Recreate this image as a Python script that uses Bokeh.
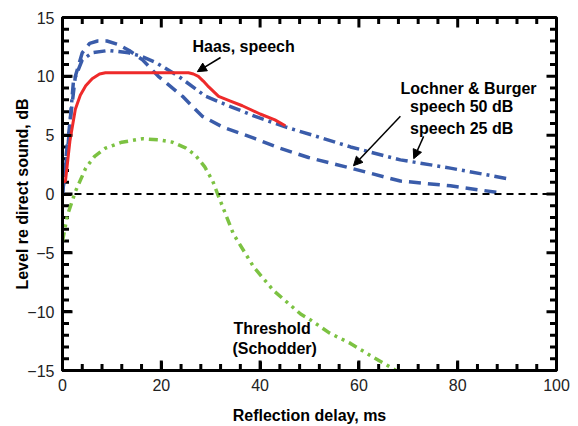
from bokeh.plotting import figure
from bokeh.models import Range1d, Arrow, NormalHead, Span, FixedTicker
from bokeh.core.properties import value
from bokeh.embed import file_html
from bokeh.resources import INLINE

# Haas, speech (red solid)
haas_x = [0, 0.6, 1.5, 2.6, 3.6, 4.7, 6.0, 7.5, 8.7, 12, 16, 20, 24, 25.5, 26.5, 27.5, 28.5, 29.6, 31.6, 34, 36.4, 40, 43, 45.1]
haas_y = [1.0, 1.1, 4.5, 7.2, 8.4, 9.2, 9.8, 10.2, 10.3, 10.3, 10.3, 10.3, 10.3, 10.3, 10.2, 10.0, 9.6, 9.1, 8.3, 7.9, 7.5, 6.8, 6.3, 5.8]

# Lochner & Burger speech 50 dB (blue dashed)
lb50_x = [0, 0.8, 1.6, 2.6, 4.0, 5.5, 7.1, 9, 11.3, 13.5, 16.2, 19.4, 24.3, 28.3, 32.4, 39, 44, 49.8, 58.3, 68.4, 78.5, 88.5]
lb50_y = [0, 3.5, 6.4, 10.0, 12.0, 12.8, 13.0, 13.0, 12.7, 12.2, 11.4, 10.0, 8.3, 6.6, 5.7, 4.7, 3.9, 3.1, 2.2, 1.1, 0.7, 0.1]

# Lochner & Burger speech 25 dB (blue dash-dot)
lb25_x = [0, 1.2, 2.2, 4.0, 6.0, 9.3, 13.4, 16, 18.8, 23.5, 29, 33.6, 39, 45.1, 50.6, 58.3, 68.4, 78.5, 90.1]
lb25_y = [0, 4.5, 9.5, 11.4, 12.0, 12.2, 12.0, 11.7, 11.2, 10.0, 8.3, 7.5, 6.6, 5.7, 5.0, 4.0, 2.9, 2.2, 1.3]

# Threshold (Schodder) (green dash-dot-dot)
thr_x = [0, 1.0, 2.6, 4.7, 6.5, 8.7, 12, 16.2, 19.5, 22.3, 25, 26.9, 28.8, 30.4, 31.4, 34.6, 38.7, 42.7, 48.2, 50.2, 54, 58.3, 63, 67.5]
thr_y = [-4.0, -1.8, 0.2, 2.2, 3.2, 3.9, 4.4, 4.7, 4.6, 4.4, 3.9, 3.3, 2.3, 1.1, 0.0, -3.4, -6.2, -8.2, -10.2, -10.7, -11.8, -12.7, -13.9, -15.0]

x_ticks = [0, 20, 40, 60, 80, 100]
x_minor = [v for v in range(0, 101, 4) if v not in x_ticks]
y_ticks = [-15, -10, -5, 0, 5, 10, 15]
y_minor = [v for v in range(-15, 16) if v not in y_ticks]

X0, X1 = 0, 100
Y0, Y1 = -15, 15
FONT = "Liberation Sans"

# approximate frame size in pixels, used to turn tick lengths into data units
FW, FH = 494, 354
MAJ, MIN = 10.0, 6.5

p = figure(width=578, height=426, output_backend="svg", toolbar_location=None,
           x_range=Range1d(X0, X1), y_range=Range1d(Y0, Y1),
           min_border_left=62, min_border_right=22, min_border_top=17, min_border_bottom=0)
p.background_fill_color = None
p.border_fill_color = None
p.outline_line_color = "black"
p.outline_line_width = 3
p.xgrid.visible = False
p.ygrid.visible = False

for ax, ticks in ((p.xaxis[0], x_ticks), (p.yaxis[0], y_ticks)):
    ax.ticker = FixedTicker(ticks=ticks)
    ax.axis_line_width = 3
    ax.axis_line_color = "black"
    ax.major_tick_in = 9
    ax.major_tick_out = 0
    ax.major_tick_line_width = 3
    ax.minor_tick_in = 0
    ax.minor_tick_out = 0
    ax.major_label_text_font = FONT
    ax.major_label_text_font_size = "16px"
    ax.major_label_text_color = "#222222"
    ax.axis_label_text_font = FONT
    ax.axis_label_text_font_style = "bold"
    ax.axis_label_text_font_size = "16px"
    ax.axis_label_text_color = "black"
    ax.major_label_standoff = 8

p.xaxis[0].axis_label = "Reflection delay, ms"
p.yaxis[0].axis_label = "Level re direct sound, dB"
p.xaxis[0].axis_label_standoff = 13
p.yaxis[0].axis_label_standoff = -7

# inward tick marks on all four sides of the frame
dx = lambda L: L * (X1 - X0) / FW
dy = lambda L: L * (Y1 - Y0) / FH
tick_x0, tick_y0, tick_x1, tick_y1 = [], [], [], []
for xs, L in ((x_ticks, MAJ), (x_minor, MIN)):
    for xv in xs:
        tick_x0 += [xv, xv]
        tick_x1 += [xv, xv]
        tick_y0 += [Y0, Y1]
        tick_y1 += [Y0 + dy(L), Y1 - dy(L)]
for ys, L in ((y_ticks, MAJ), (y_minor, MIN)):
    for yv in ys:
        tick_y0 += [yv, yv]
        tick_y1 += [yv, yv]
        tick_x0 += [X0, X1]
        tick_x1 += [X0 + dx(L), X1 - dx(L)]
p.segment(x0=tick_x0, y0=tick_y0, x1=tick_x1, y1=tick_y1, line_color="#000000", line_width=3)

p.add_layout(Span(location=0, dimension="width", line_color="black", line_width=1.8, line_dash="7 5"))

p.line(thr_x, thr_y, line_color="#7cc242", line_width=3.5, line_dash="9 5 3 5 3 5")
p.line(lb25_x, lb25_y, line_color="#3a5caa", line_width=3.5, line_dash="12 5 3 5")
p.line(lb50_x, lb50_y, line_color="#3a5caa", line_width=3.5, line_dash="12 7")
p.line(haas_x, haas_y, line_color="#ee2a2a", line_width=3)

tf = value(FONT)
p.text(x=[26.3], y=[12.5], text=["Haas, speech"], text_font=tf, text_font_style="bold",
       text_font_size="16px", text_baseline="middle", text_align="left", text_color="black")
p.text(x=[82.2, 80.8, 80.8], y=[9.0, 7.4, 5.6], text=["Lochner & Burger", "speech 50 dB", "speech 25 dB"],
       text_font=tf, text_font_style="bold", text_font_size="16px", text_baseline="middle",
       text_align="center", text_color="black")
p.text(x=[34.6, 34.4], y=[-11.4, -13.1], text=["Threshold", "(Schodder)"], text_font=tf,
       text_font_style="bold", text_font_size="16px", text_baseline="middle", text_align="left",
       text_color="black")

for (x0, y0, x1, y1) in [(32.0, 11.6, 27.3, 10.4), (68.4, 6.6, 58.9, 2.4), (73.1, 4.9, 71.1, 3.0)]:
    p.add_layout(Arrow(end=NormalHead(size=9, fill_color="black", line_color="black"),
                       x_start=x0, y_start=y0, x_end=x1, y_end=y1,
                       line_color="black", line_width=1.5))

open("out.html", "w").write(file_html(p, INLINE))
